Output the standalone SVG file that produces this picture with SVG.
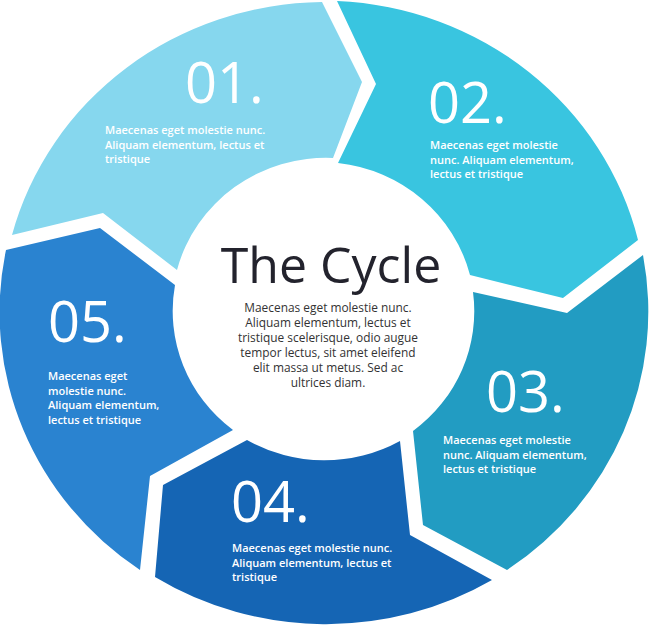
<svg xmlns="http://www.w3.org/2000/svg" width="650" height="627" viewBox="0 0 650 627">
<style>
.num{font-family:"Open Sans","Liberation Sans",sans-serif;font-weight:400;font-size:56px;fill:#fff}
.txt{font-family:"Open Sans","Liberation Sans",sans-serif;font-weight:600;font-size:11px;fill:#fff}
.title{font-family:"Open Sans","Liberation Sans",sans-serif;font-weight:400;font-size:50px;fill:#23232d}
.body{font-family:"Open Sans","Liberation Sans",sans-serif;font-weight:400;font-size:11.9px;fill:#333}
</style>
<rect width="650" height="627" fill="#fff"/>
<g id="connectors"/>
<g id="step01">
<path fill="#86d7ee" d="M 12 235 L 103 213 L 177 270 A 154 150 0 0 1 333 158 L 362 82 L 322 2 A 324 313 0 0 0 12 235 Z"/>
<text class="num" x="185" y="103">01.</text>
<text class="txt"><tspan x="105" y="134">Maecenas eget molestie nunc.</tspan><tspan x="105" y="148.5">Aliquam elementum, lectus et</tspan><tspan x="105" y="163">tristique</tspan></text>
</g>
<g id="step02">
<path fill="#39c5e0" d="M 337 1 L 376 84 L 338 163 A 154 150 0 0 1 470 275 L 563 298 L 638 240 A 324 313 0 0 0 337 1 Z"/>
<text class="num" x="428" y="123">02.</text>
<text class="txt"><tspan x="430" y="149">Maecenas eget molestie</tspan><tspan x="430" y="163.5">nunc. Aliquam elementum,</tspan><tspan x="430" y="178">lectus et tristique</tspan></text>
</g>
<g id="step03">
<path fill="#229cc2" d="M 643 255 L 567 313 L 473 292 A 154 150 0 0 1 413 431 L 423 525 L 507 570 A 324 313 0 0 0 643 255 Z"/>
<text class="num" x="486" y="412">03.</text>
<text class="txt"><tspan x="443" y="444">Maecenas eget molestie</tspan><tspan x="443" y="458.5">nunc. Aliquam elementum,</tspan><tspan x="443" y="473">lectus et tristique</tspan></text>
</g>
<g id="step04">
<path fill="#1565b4" d="M 492 580 L 410 535 L 400 441 A 154 150 0 0 1 247 440 L 163 485 L 155 577 A 324 313 0 0 0 492 580 Z"/>
<text class="num" x="231" y="522">04.</text>
<text class="txt"><tspan x="232" y="552">Maecenas eget molestie nunc.</tspan><tspan x="232" y="566.5">Aliquam elementum, lectus et</tspan><tspan x="232" y="581">tristique</tspan></text>
</g>
<g id="step05">
<path fill="#2a83d0" d="M 140 570 L 150 476 L 233 430 A 154 150 0 0 1 175 285 L 100 228 L 6 250 A 324 313 0 0 0 140 570 Z"/>
<text class="num" x="48" y="342">05.</text>
<text class="txt"><tspan x="48" y="380">Maecenas eget</tspan><tspan x="48" y="394.5">molestie nunc.</tspan><tspan x="48" y="409">Aliquam elementum,</tspan><tspan x="48" y="423.5">lectus et tristique</tspan></text>
</g>
<g id="center">
<text class="title" x="331" y="283" text-anchor="middle">The Cycle</text>
<text class="body" text-anchor="middle"><tspan x="328" y="312">Maecenas eget molestie nunc.</tspan><tspan x="328" y="327">Aliquam elementum, lectus et</tspan><tspan x="328" y="342">tristique scelerisque, odio augue</tspan><tspan x="328" y="357">tempor lectus, sit amet eleifend</tspan><tspan x="328" y="372">elit massa ut metus. Sed ac</tspan><tspan x="328" y="387">ultrices diam.</tspan></text>
</g>
</svg>
